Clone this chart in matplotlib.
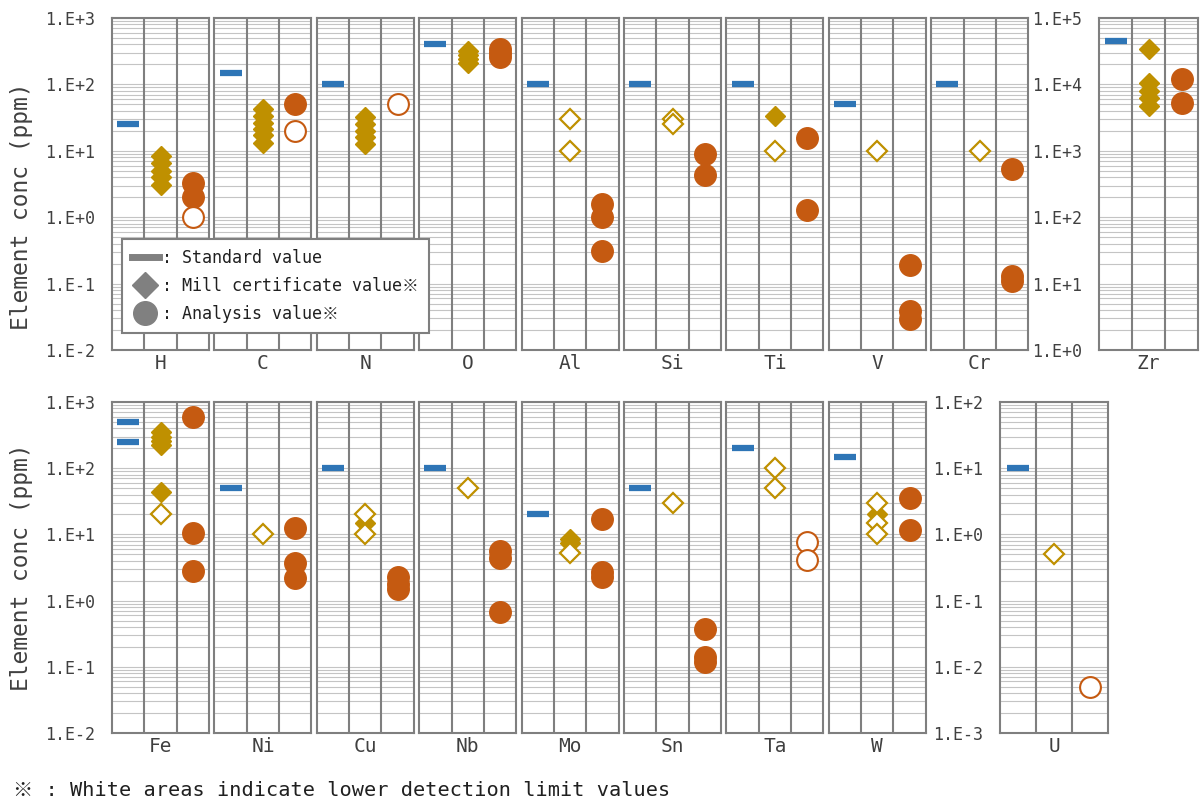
import numpy as np
import matplotlib.pyplot as plt
from matplotlib.lines import Line2D
from matplotlib.ticker import LogLocator, FuncFormatter, NullFormatter

plt.rcParams['font.family'] = ['DejaVu Sans Mono', 'Noto Sans CJK JP']

# element order in the two rows (Zr and U have their own scales)
top_elements = ['H', 'C', 'N', 'O', 'Al', 'Si', 'Ti', 'V', 'Cr']
bottom_elements = ['Fe', 'Ni', 'Cu', 'Nb', 'Mo', 'Sn', 'Ta', 'W']

# ppm values
standard = {'H': [25], 'C': [150], 'N': [100], 'O': [400], 'Al': [100], 'Si': [100],
            'Ti': [100], 'V': [50], 'Cr': [100], 'Zr': [45000],
            'Fe': [500, 250], 'Ni': [50], 'Cu': [100], 'Nb': [100], 'Mo': [20],
            'Sn': [50], 'Ta': [200], 'W': [150], 'U': [10]}

mill = {'H': [8.4, 6.5, 5, 4, 3.1], 'C': [42, 33, 26, 21, 17, 13],
        'N': [32, 25, 20, 16, 12.5], 'O': [320, 280, 240, 210], 'Ti': [33],
        'Zr': [34000, 10500, 8000, 6200, 4800],
        'Fe': [350, 300, 260, 225, 43], 'Cu': [15], 'Mo': [8.5, 7.3], 'W': [20]}

mill_lod = {'Al': [30, 10], 'Si': [30, 25], 'Ti': [10], 'V': [10], 'Cr': [10],
            'Fe': [20], 'Ni': [10], 'Cu': [20, 10], 'Nb': [50], 'Mo': [5.3],
            'Sn': [30], 'Ta': [100, 50], 'W': [30, 15, 10], 'U': [0.5]}

analysis = {'H': [3.3, 2.0], 'C': [50], 'O': [340, 300, 260], 'Al': [1.6, 1.0, 0.31],
            'Si': [9, 4.3], 'Ti': [15.5, 1.3], 'V': [0.19, 0.039, 0.029],
            'Cr': [5.4, 0.13, 0.11], 'Zr': [12000, 5200],
            'Fe': [600, 10.5, 2.8], 'Ni': [12.5, 3.7, 2.2], 'Cu': [2.25, 1.8, 1.5],
            'Nb': [5.7, 4.4, 0.68], 'Mo': [17, 2.7, 2.3], 'Sn': [0.37, 0.14, 0.12],
            'W': [35, 11.5]}

analysis_lod = {'H': [1.0], 'C': [20], 'N': [50], 'Ta': [7.8, 4.1], 'U': [0.005]}

BLUE = '#2e75b6'
GOLD = '#bf9000'
ORANGE = '#c55a11'
FRAME = '#7f7f7f'
GRID = '#c4c4c4'
TXT = '#404040'

W, H = 1203, 810
fig = plt.figure(figsize=(W / 100, H / 100), dpi=100)


def add_ax(x0, x1, y0, y1):
    return fig.add_axes([x0 / W, 1 - y1 / H, (x1 - x0) / W, (y1 - y0) / H])


def fmt(v, pos):
    return '1.E%+d' % int(round(np.log10(v)))


def panel(ax, el, ylim, labels):
    ax.set_yscale('log')
    ax.set_ylim(*ylim)
    ax.set_xlim(0, 3)
    ax.yaxis.set_major_locator(LogLocator(base=10, numticks=20))
    ax.yaxis.set_minor_locator(LogLocator(base=10, subs=np.arange(2, 10), numticks=20))
    ax.yaxis.set_major_formatter(FuncFormatter(fmt))
    ax.yaxis.set_minor_formatter(NullFormatter())
    ax.grid(which='both', axis='y', color=GRID, lw=0.8)
    ax.set_axisbelow(True)
    for x in (1, 2):
        ax.axvline(x, color=FRAME, lw=1.5, zorder=1)
    for s in ax.spines.values():
        s.set_color(FRAME)
        s.set_linewidth(1.5)
    ax.set_xticks([1.5])
    ax.set_xticklabels([el], fontsize=14, color=TXT)
    ax.tick_params(which='both', length=0)
    ax.tick_params(axis='x', pad=3)
    ax.tick_params(axis='y', pad=12, labelsize=12, labelcolor=TXT, labelleft=labels)

    v = standard.get(el, [])
    ax.plot([0.5] * len(v), v, ls='none', marker='_', ms=16, mew=4.5, color=BLUE, zorder=3)
    v = mill.get(el, [])
    ax.plot([1.5] * len(v), v, ls='none', marker='D', ms=10.5, color=GOLD, mec=GOLD, zorder=3)
    v = mill_lod.get(el, [])
    ax.plot([1.5] * len(v), v, ls='none', marker='D', ms=10, mfc='white', mec=GOLD, mew=1.6, zorder=4)
    v = analysis.get(el, [])
    ax.plot([2.5] * len(v), v, ls='none', marker='o', ms=15.5, color=ORANGE, mec=ORANGE, zorder=3)
    v = analysis_lod.get(el, [])
    for y in v:
        ax.plot([2.5], [y], ls='none', marker='o', ms=15, mfc='white', mec=ORANGE, mew=1.5, zorder=4)


pitch, width = 102.4, 97
for i, el in enumerate(top_elements):
    x0 = 112 + i * pitch
    panel(add_ax(x0, x0 + width, 18, 350), el, (1e-2, 1e3), i == 0)
panel(add_ax(1099, 1198, 18, 350), 'Zr', (1e0, 1e5), True)

for i, el in enumerate(bottom_elements):
    x0 = 112 + i * pitch
    panel(add_ax(x0, x0 + width, 402, 733), el, (1e-2, 1e3), i == 0)
panel(add_ax(1000, 1108, 402, 733), 'U', (1e-3, 1e2), True)

fig.text(22 / W, 1 - 206 / H, 'Element conc (ppm)', rotation=90, ha='center', va='center',
         fontsize=16.5, color=TXT)
fig.text(22 / W, 1 - 567 / H, 'Element conc (ppm)', rotation=90, ha='center', va='center',
         fontsize=16.5, color=TXT)

handles = [Line2D([], [], color='#808080', lw=5),
           Line2D([], [], ls='none', marker='D', ms=13, color='#808080'),
           Line2D([], [], ls='none', marker='o', ms=17, color='#808080')]
labels = [': Standard value', ': Mill certificate value※', ': Analysis value※']
leg = fig.legend(handles, labels, loc='upper left', bbox_to_anchor=(122 / W, 1 - 239 / H),
                 borderaxespad=0, fancybox=False, fontsize=12, handlelength=1.6,
                 handletextpad=0.2, labelspacing=0.6, borderpad=0.6, framealpha=1)
leg.get_frame().set_edgecolor(FRAME)
leg.get_frame().set_linewidth(1.5)
for t in leg.get_texts():
    t.set_color('#202020')

fig.text(13 / W, 1 - 790 / H, '※ : White areas indicate lower detection limit values',
         fontsize=14.6, va='center', color='#202020')

fig.savefig('out.png', dpi=100)
